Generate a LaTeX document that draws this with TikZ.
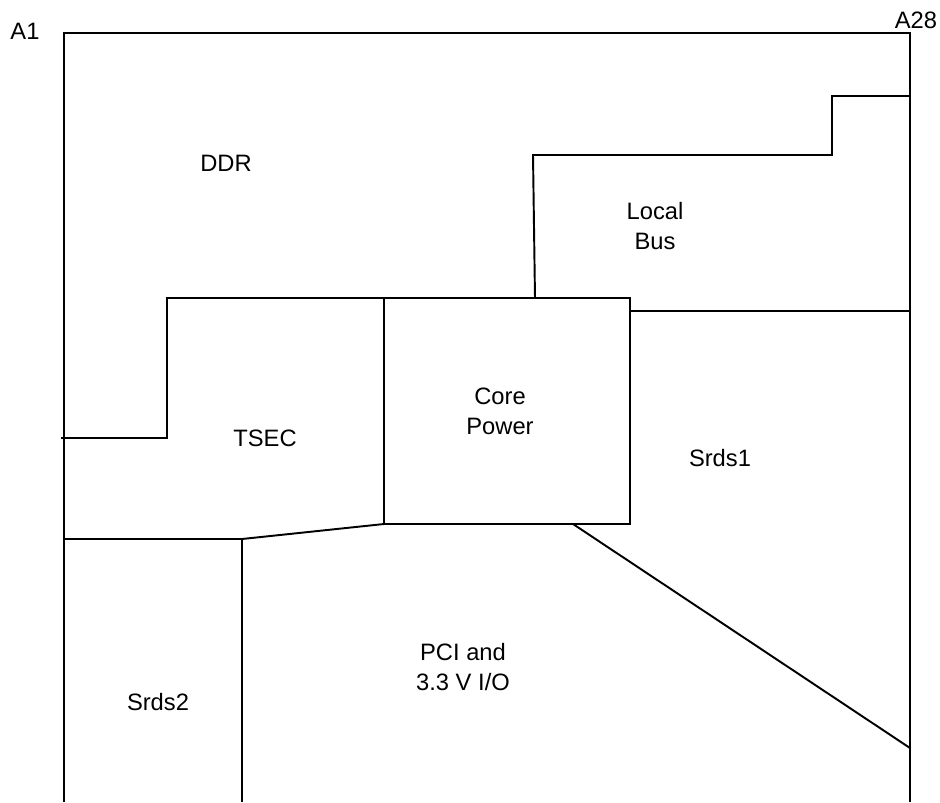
\documentclass[tikz,border=0pt]{standalone}
\usepackage{fontspec}
\setmainfont{Liberation Sans}
\begin{document}
\begin{tikzpicture}[x=0.02cm, y=-0.02cm,
        wall/.style={line width=1.1pt},
        region/.style={font=\fontsize{13.5}{17}\selectfont, align=center, inner sep=0pt}
    ]
        \useasboundingbox (0,0) rectangle (940,802);

        % Corner coordinates
        \coordinate (a1) at (64,33);
        \coordinate (a28) at (910,33);
        \coordinate (bl) at (64,802);
        \coordinate (br) at (910,802);

        % Core power block
        \coordinate (core_nw) at (384,298);
        \coordinate (core_se) at (630,524);

        % Outline
        \draw[wall] (bl) -- (a1) -- (a28) -- (br);

        % DDR / TSEC border
        \draw[wall] (61,438) -- (167,438) -- (167,298) -- (core_nw);

        % Core power
        \draw[wall] (core_nw) rectangle (core_se);

        % Local bus
        \draw[wall] (535,298) -- (533,155) -- (832,155) -- (832,96) -- (910,96);
        \draw[wall] (630,311) -- (910,311);

        % Srds2 and PCI
        \draw[wall] (64,539) -- (242,539) -- (242,802);
        \draw[wall] (242,539) -- (384,524);
        \draw[wall] (573,524) -- (910,748);

        % Pin labels
        \node[region] (pin_a1) at (25,31) {A1};
        \node[region] (pin_a28) at (916,20) {A28};

        % Region labels
        \node[region] (ddr) at (226,163) {DDR};
        \node[region] (lbus) at (655,226) {Local\\Bus};
        \node[region] (core) at (500,411) {Core\\Power};
        \node[region] (tsec) at (265,438) {TSEC};
        \node[region] (srds1) at (720,458) {Srds1};
        \node[region] (pci) at (463,667) {PCI and\\3.3 V I/O};
        \node[region] (srds2) at (158,702) {Srds2};
    \end{tikzpicture}
\end{document}
